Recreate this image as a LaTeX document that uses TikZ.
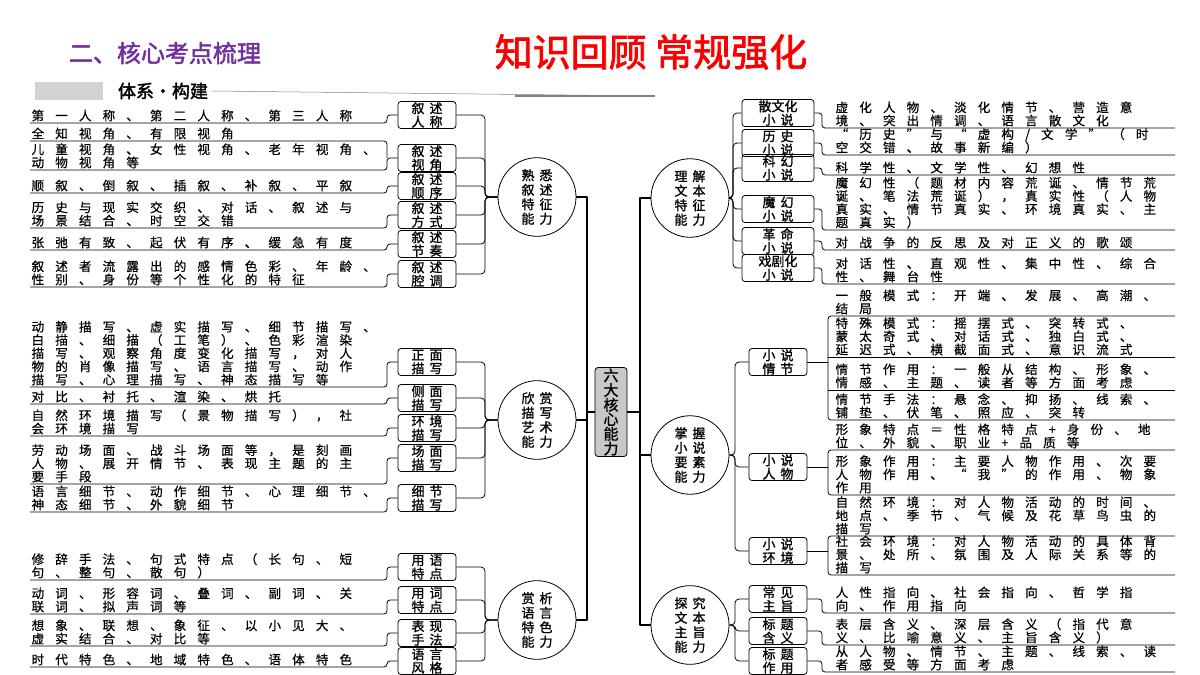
\documentclass[tikz,border=0pt]{standalone}
\usepackage{fontspec}
\usetikzlibrary{shapes.geometric}
\newfontfamily\leaffont[LetterSpace=88,FakeBold=0.5]{Noto Sans CJK SC}
\newfontfamily\boxfont[FakeBold=1.2]{Noto Sans CJK SC}
\newfontfamily\titlefont[FakeBold=2]{Noto Sans CJK SC}
\newcommand\gp{\hspace{5pt}}
\definecolor{titlepurple}{RGB}{112,48,160}
\definecolor{titlered}{RGB}{250,0,0}
\definecolor{coregray}{RGB}{200,200,200}
\tikzset{
  sbox/.style={draw,rounded corners=3pt,minimum width=58,minimum height=27,inner sep=0.5pt,
    font=\boxfont\fontsize{13}{13.5}\selectfont,align=center,line width=0.8pt},
  hub/.style={draw,ellipse,minimum width=78,minimum height=70,inner sep=0pt,
    font=\boxfont\fontsize{13}{14.5}\selectfont,align=center,line width=0.8pt},
  leaf/.style={anchor=south west,inner sep=1.2pt,font=\leaffont\fontsize{12.6}{13.2}\selectfont,align=left},
}
\begin{document}
\begin{tikzpicture}[x=1pt,y=-1pt,line width=0.8pt,line join=round]
  \useasboundingbox (0,0) rectangle (1200,675);
  %titres
  \node[font=\titlefont\fontsize{24}{25}\selectfont,text=titlepurple] (sub) at (165,53) {二、核心考点梳理};
  \node[font=\titlefont\fontsize{38}{39}\selectfont,text=titlered] (main) at (651,52) {知识回顾\ 常规强化};
  \fill[coregray!80] (35,82) rectangle (103,100);
  \node[font=\titlefont\fontsize{18}{19}\selectfont] (sys) at (163,91) {体系·构建};
  \draw[gray,line width=0.5pt] (sys.east) -- (655,96);
  \draw[gray,line width=1.5pt] (515,96) -- (655,96);
  %centre
  \node[draw,fill=coregray,rounded corners=3pt,minimum width=32,minimum height=78,inner sep=1pt,
    font=\boxfont\fontsize{15}{13}\selectfont,align=center] (core) at (611,412) {六\\大\\核\\心\\能\\力};
  \node[hub] (h1) at (537,197) {熟\gp{}悉\\叙\gp{}述\\特\gp{}征\\能\gp{}力};
  \node[hub] (h2) at (537,420) {欣\gp{}赏\\描\gp{}写\\艺\gp{}术\\能\gp{}力};
  \node[hub] (h3) at (537,620) {赏\gp{}析\\语\gp{}言\\特\gp{}色\\能\gp{}力};
  \node[hub] (h4) at (690,198) {理\gp{}解\\文\gp{}本\\特\gp{}征\\能\gp{}力};
  \node[hub] (h5) at (690,455) {掌\gp{}握\\小\gp{}说\\要\gp{}素\\能\gp{}力};
  \node[hub] (h6) at (690,625) {探\gp{}究\\文\gp{}本\\主\gp{}旨\\能\gp{}力};
  \draw[line width=1.3pt] (h1.east) -| (587,620) -- (h3.east);
  \draw[line width=1.3pt] (h2.east) -- (587,420);
  \draw[line width=1.3pt] (587,412) -- (core.west);
  \draw[line width=1.3pt] (h4.west) -| (640,625) -- (h6.west);
  \draw[line width=1.3pt] (h5.west) -- (640,455);
  \draw[line width=1.3pt] (core.east) -- (640,412);
  %gauche
  \foreach \n/\y/\u/\Nom/\Txt/\H/\Hy in {
    1/115/123/{叙\gp{}述\\人\gp{}称}/{第一人称、第二人称、第三人称}/h1/197,
    2/158/170/{叙\gp{}述\\视\gp{}角}/{儿童视角、女性视角、老年视角、\\动物视角等}/h1/197,
    3/186/193/{叙\gp{}述\\顺\gp{}序}/{顺叙、倒叙、插叙、补叙、平叙}/h1/197,
    4/215/228/{叙\gp{}述\\方\gp{}式}/{历史与现实交织、对话、叙述与\\场景结合、时空交错}/h1/197,
    5/244/250/{叙\gp{}述\\节\gp{}奏}/{张弛有致、起伏有序、缓急有度}/h1/197,
    6/274/287/{叙\gp{}述\\腔\gp{}调}/{叙述者流露出的感情色彩、年龄、\\性别、身份等个性化的特征}/h1/197,
    7/362/387/{正\gp{}面\\描\gp{}写}/{动静描写、虚实描写、细节描写、\\白描、细描（工笔）、色彩渲染\\描写、观察角度变化描写，对人\\物的肖像描写、语言描写、动作\\描写、心理描写、神态描写等}/h2/420,
    8/398/404/{侧\gp{}面\\描\gp{}写}/{对比、衬托、渲染、烘托}/h2/420,
    9/428/436/{环\gp{}境\\描\gp{}写}/{自然环境描写（景物描写），社\\会环境描写}/h2/420,
    10/458/484/{场\gp{}面\\描\gp{}写}/{劳动场面、战斗场面等，是刻画\\人物、展开情节、表现主题的主\\要手段}/h2/420,
    11/498/512/{细\gp{}节\\描\gp{}写}/{语言细节、动作细节、心理细节、\\神态细节、外貌细节}/h2/420,
    12/567/580/{用\gp{}语\\特\gp{}点}/{修辞手法、句式特点（长句、短\\句、整句、散句）}/h3/620,
    13/600/614/{用\gp{}词\\特\gp{}点}/{动词、形容词、叠词、副词、关\\联词、拟声词等}/h3/620,
    14/633/646/{表\gp{}现\\手\gp{}法}/{想象、联想、象征、以小见大、\\虚实结合、对比等}/h3/620,
    15/661/667/{语\gp{}言\\风\gp{}格}/{时代特色、地域特色、语体特色}/h3/620}
  {
    \node[sbox] (b\n) at (427,\y) {\Nom};
    \node[leaf] (t\n) at (30,\u) {\Txt};
    \draw[rounded corners=3pt] (b\n.west) -| (387,\u) -- (30,\u);
    \draw[rounded corners=4pt] (\H.west) -- (485,\Hy) |- (b\n.east);
  }
  \node[leaf] (t2a) at (30,141) {全知视角、有限视角};
  \draw[rounded corners=3pt] (30,141) -| (387,158);
  %droite
  \foreach \n/\y/\u/\Nom/\Txt in {
    1/113/128/{散文化\\小\gp{}说}/{虚化人物、淡化情节、营造意\\境、突出情调、语言散文化},
    2/143/155/{历\gp{}史\\小\gp{}说}/{“历史”与“虚构/文学”（时\\空交错、故事新编）},
    3/168/175/{科\gp{}幻\\小\gp{}说}/{科学性、文学性、幻想性},
    4/209/230/{魔\gp{}幻\\小\gp{}说}/{魔幻性（题材内容荒诞、情节荒\\诞、笔法荒诞），真实性（人物\\真实、情节真实、环境真实、主\\题真实）},
    5/241/250/{革\gp{}命\\小\gp{}说}/{对战争的反思及对正义的歌颂},
    6/268/284/{戏剧化\\小\gp{}说}/{对话性、直观性、集中性、综合\\性、舞台性}}
  {
    \node[sbox,minimum width=72] (r\n) at (778,\y) {\Nom};
    \node[leaf] (s\n) at (834,\u) {\Txt};
    \draw[rounded corners=3pt] (r\n.east) -| (822,\u) -- (1175,\u);
    \draw[rounded corners=4pt] (h4.east) -- (733,198) |- (r\n.west);
  }
  %elements
  \foreach \n/\y/\Nom/\Top/\Bot in {1/362/{小\gp{}说\\情\gp{}节}/316/420, 2/467/{小\gp{}说\\人\gp{}物}/450/495, 3/551/{小\gp{}说\\环\gp{}境}/536/575}
  {
    \node[sbox] (e\n) at (778,\y) {\Nom};
    \draw[rounded corners=4pt] (h5.east) -- (735,455) |- (e\n.west);
    \draw[rounded corners=3pt] (1175,\Top) -- (828,\Top) -- (828,\Bot) -- (1175,\Bot);
    \draw (e\n.east) -- (828,\y);
  }
  \foreach \n/\u/\Txt in {
    1/316/{一般模式：开端、发展、高潮、\\结局},
    2/357/{特殊模式：摇摆式、突转式、\\蒙太奇式、对话式、独白式、\\延迟式、横截面式、意识流式},
    3/390/{情节作用：一般从结构、形象、\\情感、主题、读者等方面考虑},
    4/420/{情节手法：悬念、抑扬、线索、\\铺垫、伏笔、照应、突转},
    5/450/{形象特点＝性格特点+身份、地\\位、外貌、职业+品质等},
    6/495/{形象作用：主要人物作用、次要\\人物作用、“我”的作用、物象\\作用},
    7/536/{自然环境：对人物活动的时间、\\地点、季节、气候及花草鸟虫的\\描写},
    8/575/{社会环境：对人物活动的具体背\\景、处所、氛围及人际关系等的\\描写}}
  \node[leaf] (m\n) at (834,\u) {\Txt};
  \draw (828,357) -- (1175,357);
  \draw (828,390) -- (1175,390);
  %theme
  \foreach \n/\y/\u/\Nom/\Txt in {
    1/599/613/{常\gp{}见\\主\gp{}旨}/{人性指向、社会指向、哲学指\\向、作用指向},
    2/631/645/{标\gp{}题\\含\gp{}义}/{表层含义、深层含义（指代意\\义、比喻意义、主旨含义）},
    3/661/672/{标\gp{}题\\作\gp{}用}/{从人物、情节、主题、线索、读\\者感受等方面考虑}}
  {
    \node[sbox] (z\n) at (778,\y) {\Nom};
    \node[leaf] (q\n) at (834,\u) {\Txt};
    \draw[rounded corners=3pt] (z\n.east) -| (822,\u) -- (1175,\u);
    \draw[rounded corners=4pt] (h6.east) -- (735,625) |- (z\n.west);
  }
\end{tikzpicture}
\end{document}
